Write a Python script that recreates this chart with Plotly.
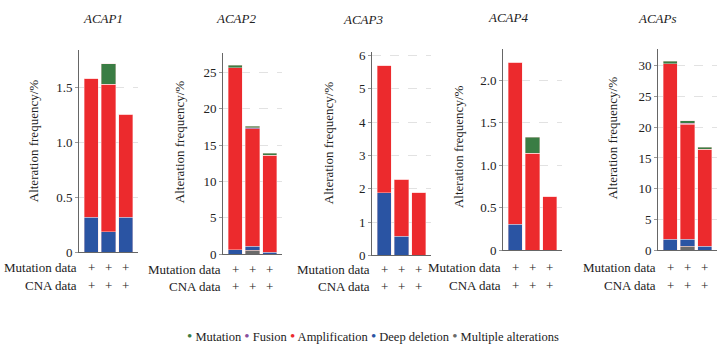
import plotly.graph_objects as go

W, H = 723, 358

genes = ["ACAP1", "ACAP2", "ACAP3", "ACAP4", "ACAPs"]
studies = ["S1", "S2", "S3"]

# stacked segment heights (bottom -> top): multiple, deep deletion, amplification, fusion, mutation
multiple = {
    "ACAP1": [0, 0, 0], "ACAP2": [0, 0.55, 0], "ACAP3": [0, 0, 0],
    "ACAP4": [0, 0, 0], "ACAPs": [0, 0.7, 0],
}
deep_deletion = {
    "ACAP1": [0.32, 0.19, 0.32], "ACAP2": [0.6, 0.55, 0.3], "ACAP3": [1.88, 0.57, 0],
    "ACAP4": [0.31, 0, 0], "ACAPs": [1.8, 1.1, 0.65],
}
amplification = {
    "ACAP1": [1.26, 1.34, 0.94], "ACAP2": [25.0, 16.15, 13.3], "ACAP3": [3.82, 1.71, 1.88],
    "ACAP4": [1.90, 1.14, 0.63], "ACAPs": [28.5, 18.7, 15.75],
}
fusion = {
    "ACAP1": [0, 0, 0], "ACAP2": [0, 0.15, 0], "ACAP3": [0, 0, 0],
    "ACAP4": [0, 0, 0], "ACAPs": [0, 0.15, 0],
}
mutation = {
    "ACAP1": [0, 0.19, 0], "ACAP2": [0.35, 0.2, 0.3], "ACAP3": [0, 0, 0],
    "ACAP4": [0, 0.19, 0], "ACAPs": [0.35, 0.4, 0.35],
}

y_ranges = {"ACAP1": 1.84, "ACAP2": 27.6, "ACAP3": 6.1, "ACAP4": 2.36, "ACAPs": 32.6}
tick_vals = {
    "ACAP1": [0, 0.5, 1.0, 1.5],
    "ACAP2": [0, 5, 10, 15, 20, 25],
    "ACAP3": [0, 1, 2, 3, 4, 5, 6],
    "ACAP4": [0, 0.5, 1.0, 1.5, 2.0],
    "ACAPs": [0, 5, 10, 15, 20, 25, 30],
}
tick_text = {
    "ACAP1": ["0", "0.5", "1.0", "1.5"],
    "ACAP2": ["0", "5", "10", "15", "20", "25"],
    "ACAP3": ["0", "1", "2", "3", "4", "5", "6"],
    "ACAP4": ["0", "0.5", "1.0", "1.5", "2.0"],
    "ACAPs": ["0", "5", "10", "15", "20", "25", "30"],
}
row_labels = ["Mutation data", "CNA data"]
legend_names = ["Mutation", "Fusion", "Amplification", "Deep deletion", "Multiple alterations"]

colors = {
    "Mutation": "#3a7d44",
    "Fusion": "#8a4f9e",
    "Amplification": "#ec2a2d",
    "Deep deletion": "#2a54a3",
    "Multiple alterations": "#6a6a6a",
}

# layout geometry in pixels
ax_left = [79, 223, 372, 503, 658]
ax_width = 59
ax_top = [48, 51, 50, 47, 47]
ax_bottom = [257, 259, 260, 255, 255]
ytitle_x = [33, 179, 328, 458, 612]
ytitle_y = [142, 143, 144, 148, 139]
title_x = [103, 236, 363, 508, 657]
title_y = [15, 15, 16, 14, 15]
row_y = [[273, 291], [275, 292], [275, 292], [273, 291], [273, 291]]

FONT = "Liberation Serif"

fig = go.Figure()
layout = dict(
    width=W, height=H, margin=dict(l=0, r=0, t=0, b=0),
    paper_bgcolor="white", plot_bgcolor="white",
    barmode="stack", bargap=0.18, showlegend=False,
    font=dict(family=FONT, size=13, color="#222"),
)
annotations = []

for i, g in enumerate(genes):
    xa = "x" if i == 0 else f"x{i+1}"
    ya = "y" if i == 0 else f"y{i+1}"
    series = [
        ("Multiple alterations", multiple[g]),
        ("Deep deletion", deep_deletion[g]),
        ("Amplification", amplification[g]),
        ("Fusion", fusion[g]),
        ("Mutation", mutation[g]),
    ]
    for name, vals in series:
        fig.add_trace(go.Bar(
            x=studies, y=vals, name=name, xaxis=xa, yaxis=ya,
            marker=dict(color=colors[name], line=dict(color="rgba(255,220,220,0.7)", width=0.6)),
            showlegend=False,
        ))
    key = "" if i == 0 else str(i + 1)
    layout["xaxis" + key] = dict(
        domain=[ax_left[i] / W, (ax_left[i] + ax_width) / W],
        anchor=ya, range=[-0.7, 2.7], showticklabels=False, ticks="",
        showline=True, linecolor="#666", linewidth=1, showgrid=False, zeroline=False,
        fixedrange=True,
    )
    layout["yaxis" + key] = dict(
        domain=[1 - ax_bottom[i] / H, 1 - ax_top[i] / H],
        anchor=xa, range=[0, y_ranges[g]],
        tickvals=tick_vals[g], ticktext=tick_text[g],
        ticks="outside", ticklen=3, tickcolor="#999", tickwidth=1,
        showline=True, linecolor="#666", linewidth=1,
        showgrid=True, gridcolor="#e2e2e2", griddash="dash", gridwidth=1,
        zeroline=False, tickfont=dict(family=FONT, size=13, color="#222"),
        fixedrange=True,
    )
    annotations.append(dict(
        text=f"<i>{g}</i>", x=title_x[i] / W, y=1 - title_y[i] / H,
        xref="paper", yref="paper", showarrow=False, xanchor="center", yanchor="middle",
        font=dict(family=FONT, size=13, color="#222"),
    ))
    annotations.append(dict(
        text="Alteration frequency/%", textangle=-90,
        x=ytitle_x[i] / W, y=1 - ytitle_y[i] / H,
        xref="paper", yref="paper", showarrow=False, xanchor="center", yanchor="middle",
        font=dict(family=FONT, size=13, color="#222"),
    ))
    for r, lab in enumerate(row_labels):
        annotations.append(dict(
            text=lab, x=(ax_left[i] - 1) / W, y=1 - row_y[i][r] / H,
            xref="paper", yref="paper", showarrow=False, xanchor="right", yanchor="middle",
            borderpad=0, font=dict(family=FONT, size=13, color="#222"),
        ))
        for s in studies:
            annotations.append(dict(
                text="+", x=s, y=1 - row_y[i][r] / H, xref=xa, yref="paper",
                showarrow=False, xanchor="center", yanchor="middle",
                borderpad=0, font=dict(family=FONT, size=13, color="#222"),
            ))

legend_text = " ".join(
    f"<span style='color:{colors[n]};font-size:15px'>•</span> {n}" for n in legend_names
)
annotations.append(dict(
    text=legend_text, x=373 / W, y=1 - 344 / H, xref="paper", yref="paper",
    showarrow=False, xanchor="center", yanchor="middle",
    font=dict(family=FONT, size=12.5, color="#222"),
))

layout["annotations"] = annotations
fig.update_layout(**layout)
fig.write_html("out.html", post_script="document.body.style.margin='0';",
               config={"displayModeBar": False})
